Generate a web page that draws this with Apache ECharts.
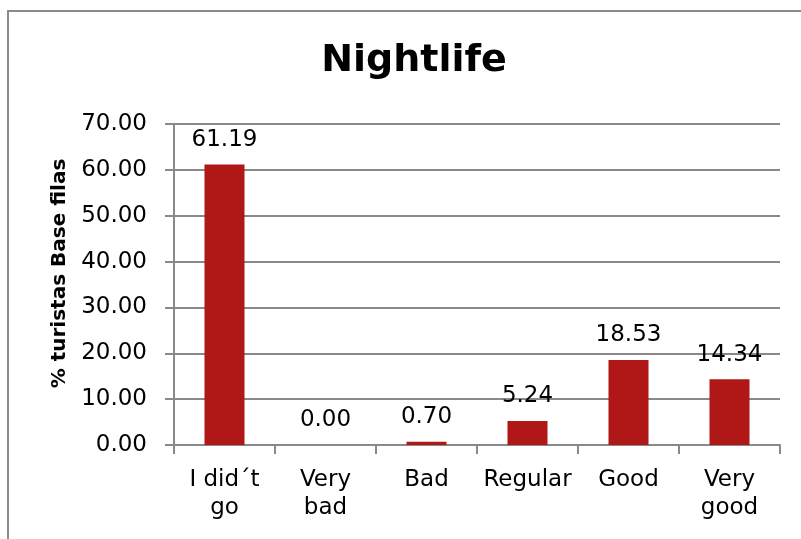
<!DOCTYPE html>
<html>
<head>
<meta charset="utf-8">
<script src="https://cdn.jsdelivr.net/npm/echarts@6/dist/echarts.min.js"></script>
<style>html,body{margin:0;padding:0;background:#fff}#c{width:801px;height:539px}</style>
</head>
<body>
<div id="c"></div>
<script>
const categories = ['I did´t\ngo', 'Very\nbad', 'Bad', 'Regular', 'Good', 'Very\ngood'];
const values = [61.19, 0.00, 0.70, 5.24, 18.53, 14.34];
const titleText = 'Nightlife';
const yAxisName = '% turistas Base filas';

const FONT = 'DejaVu Sans';
const chart = echarts.init(document.getElementById('c'), null, {renderer: 'canvas'});
chart.setOption({
  animation: false,
  backgroundColor: '#fff',
  graphic: [{
    type: 'rect', shape: {x: 8, y: 11, width: 900, height: 700},
    style: {fill: 'none', stroke: '#8a8a8a', lineWidth: 2}, z: -10
  }],
  title: {
    text: titleText, left: 409, top: 37, textAlign: 'center',
    textStyle: {fontFamily: FONT, fontWeight: 'bold', fontSize: 38, color: '#000'}
  },
  grid: {left: 174, right: 21, top: 124, bottom: 94, containLabel: false},
  xAxis: {
    type: 'category', data: categories,
    axisLine: {lineStyle: {color: '#898989', width: 2}},
    axisTick: {show: true, length: 9, alignWithLabel: false, lineStyle: {color: '#898989', width: 2}},
    axisLabel: {fontFamily: FONT, fontSize: 23, color: '#000', margin: 21, lineHeight: 28, interval: 0}
  },
  yAxis: {
    type: 'value', min: 0, max: 70, interval: 10,
    name: yAxisName, nameLocation: 'middle', nameGap: 100, nameRotate: 90,
    nameTextStyle: {fontFamily: FONT, fontWeight: 'bold', fontSize: 20, color: '#000', padding: [0, 0, 0, 22]},
    axisLine: {show: true, lineStyle: {color: '#898989', width: 2}},
    axisTick: {show: true, length: 9, lineStyle: {color: '#898989', width: 2}},
    splitLine: {lineStyle: {color: '#898989', width: 2}},
    axisLabel: {fontFamily: FONT, fontSize: 23, color: '#000', margin: 27,
      formatter: v => v.toFixed(2)}
  },
  series: [{
    type: 'bar', data: values, barWidth: 40,
    itemStyle: {color: '#b01717'},
    label: {show: true, position: 'top', distance: 13, fontFamily: FONT, fontSize: 23, color: '#000',
      formatter: p => p.value.toFixed(2)}
  }]
});
</script>
</body>
</html>
